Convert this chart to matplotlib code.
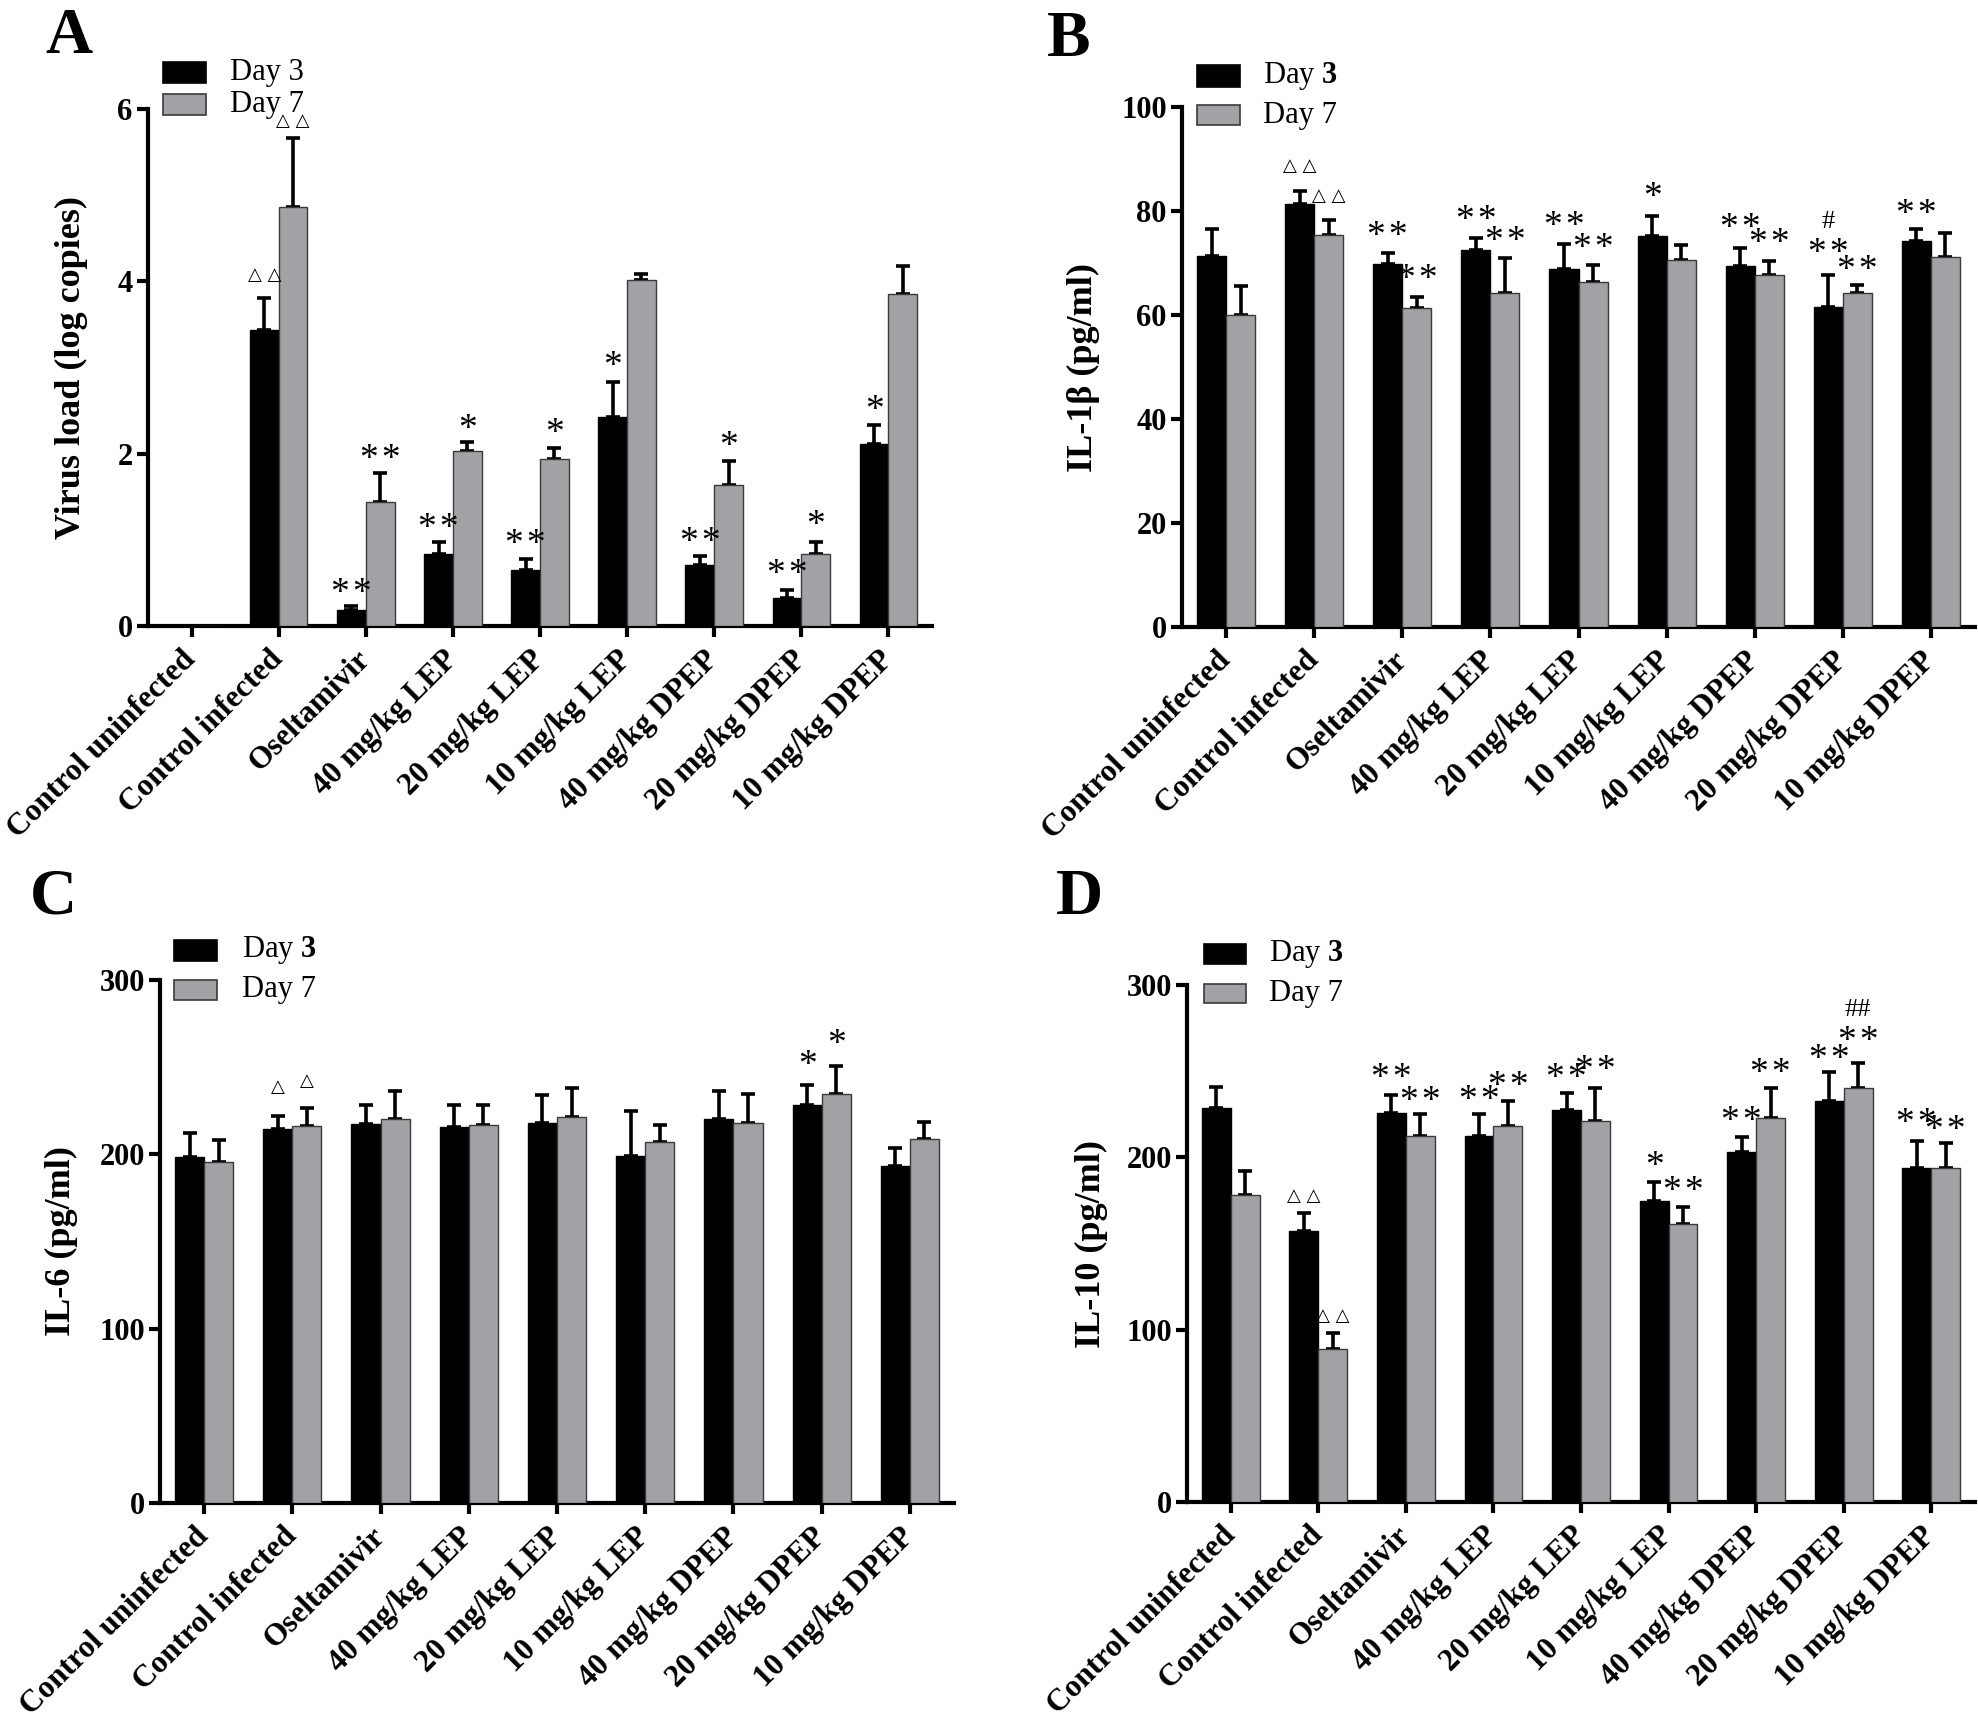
import matplotlib
matplotlib.use("Agg")
import matplotlib.pyplot as plt
from matplotlib.patches import Rectangle
import numpy as np

plt.rcParams['font.family'] = ['Liberation Serif', 'DejaVu Sans']
plt.rcParams['mathtext.fontset'] = 'custom'
plt.rcParams['mathtext.rm'] = 'Liberation Serif'
plt.rcParams['mathtext.bf'] = 'Liberation Serif:bold'

groups = ["Control uninfected", "Control infected", "Oseltamivir", "40 mg/kg LEP",
          "20 mg/kg LEP", "10 mg/kg LEP", "40 mg/kg DPEP", "20 mg/kg DPEP", "10 mg/kg DPEP"]

# Panel A: virus load (log copies)
A_d3 = [0, 3.43, 0.19, 0.84, 0.65, 2.43, 0.71, 0.33, 2.11]
A_d3_err = [0, 0.38, 0.04, 0.14, 0.13, 0.40, 0.10, 0.09, 0.22]
A_d7 = [0, 4.86, 1.44, 2.03, 1.94, 4.01, 1.64, 0.84, 3.85]
A_d7_err = [0, 0.80, 0.33, 0.10, 0.13, 0.08, 0.28, 0.14, 0.33]
A_ticks = [0, 2, 4, 6]
A_ann = [(1, 3, "△ △", 4.08), (1, 7, "△ △", 5.86), (2, 3, "**", 0.49), (2, 7, "**", 2.05),
         (3, 3, "**", 1.25), (3, 7, "*", 2.40), (4, 3, "**", 1.06), (4, 7, "*", 2.35),
         (5, 3, "*", 3.13), (6, 3, "**", 1.09), (6, 7, "*", 2.20), (7, 3, "**", 0.71),
         (7, 7, "*", 1.28), (8, 3, "*", 2.62)]

# Panel B: IL-1beta
B_d3 = [71.4, 81.3, 69.9, 72.5, 68.8, 75.2, 69.5, 61.6, 74.2]
B_d3_err = [5.2, 2.6, 2.1, 2.4, 4.9, 3.9, 3.4, 6.0, 2.3]
B_d7 = [60.0, 75.3, 61.4, 64.2, 66.3, 70.5, 67.7, 64.2, 71.2]
B_d7_err = [5.5, 2.9, 2.1, 6.7, 3.4, 3.0, 2.7, 1.6, 4.5]
B_ticks = [0, 20, 40, 60, 80, 100]
B_ann = [(1, 3, "△ △", 88.7), (1, 7, "△ △", 82.9), (2, 3, "**", 77.1), (2, 7, "**", 68.7),
         (3, 3, "**", 80.0), (3, 7, "**", 76.1), (4, 3, "**", 79.0), (4, 7, "**", 74.7),
         (5, 3, "*", 84.6), (6, 3, "**", 78.6), (6, 7, "**", 75.6), (7, 3, "#", 78.4),
         (7, 3, "**", 73.7), (7, 7, "**", 70.5), (8, 3, "**", 81.3)]

# Panel C: IL-6
C_d3 = [198.5, 214.6, 217.5, 215.6, 218.1, 198.9, 220.0, 228.5, 193.2]
C_d3_err = [13.5, 7.3, 10.7, 12.9, 15.7, 25.8, 16.4, 11.3, 10.7]
C_d7 = [195.4, 216.2, 220.3, 216.8, 221.6, 207.1, 218.1, 234.5, 209.0]
C_d7_err = [12.6, 10.4, 16.1, 11.4, 16.7, 9.7, 16.4, 16.1, 9.7]
C_ticks = [0, 100, 200, 300]
C_ann = [(1, 3, "△", 238.6), (1, 7, "△", 242.4), (7, 3, "*", 256.8), (7, 7, "*", 268.5)]

# Panel D: IL-10
D_d3 = [228.8, 157.0, 226.0, 212.6, 227.3, 174.9, 203.3, 232.4, 193.7]
D_d3_err = [11.8, 10.6, 10.2, 12.7, 9.9, 10.5, 8.3, 16.9, 15.7]
D_d7 = [178.1, 88.7, 212.6, 218.0, 221.2, 161.2, 223.1, 240.0, 194.1]
D_d7_err = [14.0, 9.6, 12.7, 14.4, 18.8, 10.2, 16.9, 14.7, 14.0]
D_ticks = [0, 100, 200, 300]
D_ann = [(1, 3, "△ △", 178.0), (1, 7, "△ △", 107.9), (2, 3, "**", 251.5), (2, 7, "**", 238.0),
         (3, 3, "**", 238.7), (3, 7, "**", 246.7), (4, 3, "**", 251.5), (4, 7, "**", 256.3),
         (5, 3, "*", 200.4), (5, 7, "**", 186.0), (6, 3, "**", 226.6), (6, 7, "**", 254.7),
         (7, 3, "**", 262.7), (7, 7, "**", 272.9), (7, 7, "##", 287.3), (8, 3, "**", 225.3),
         (8, 7, "**", 221.2)]

W, H = 1978, 1718
fig = plt.figure(figsize=(W / 100, H / 100), dpi=100)

GRAY = "#a2a2a6"
BW = 0.33


def fx(px):
    return px / W


def fy(py):
    return 1 - py / H


def panel(rect_px, d3, d3e, d7, d7e, ticks, ann, ylabel, ylabel_x, letter, letter_xy,
          legend_px, bold3):
    x0, x1, ytop, ybot = rect_px
    ax = fig.add_axes([fx(x0), fy(ybot), (x1 - x0) / W, (ybot - ytop) / H])
    x = np.arange(len(groups))
    ax.bar(x - BW / 2, d3, BW, color="black", edgecolor="black", linewidth=1, zorder=3)
    ax.bar(x + BW / 2, d7, BW, color=GRAY, edgecolor="#3a3a3a", linewidth=1, zorder=3)
    d3a = np.array(d3)
    d7a = np.array(d7)
    m3 = d3a > 0
    m7 = d7a > 0
    ax.errorbar((x - BW / 2)[m3], d3a[m3], yerr=[np.zeros(m3.sum()), np.array(d3e)[m3]],
                fmt="none", ecolor="black", elinewidth=2.6, capsize=5, capthick=2.6, zorder=2)
    ax.errorbar((x + BW / 2)[m7], d7a[m7], yerr=[np.zeros(m7.sum()), np.array(d7e)[m7]],
                fmt="none", ecolor="black", elinewidth=2.6, capsize=5, capthick=2.6, zorder=2)
    ax.set_xlim(-0.5, 8.5)
    ax.set_ylim(0, ticks[-1])
    ax.set_yticks(ticks)
    ax.set_yticklabels([str(t) for t in ticks], fontweight="bold", fontsize=22)
    ax.set_xticks(x)
    ax.set_xticklabels(groups, rotation=45, ha="right", va="center",
                       rotation_mode="anchor", fontweight="bold", fontsize=22.5)
    for s in ["top", "right"]:
        ax.spines[s].set_visible(False)
    for s in ["left", "bottom"]:
        ax.spines[s].set_linewidth(3)
    ax.tick_params(axis="both", width=3, length=8, direction="out")
    ax.tick_params(axis="y", pad=3)
    ax.tick_params(axis="x", pad=13)
    ax.set_ylabel(ylabel, fontweight="bold", fontsize=26)
    ax.yaxis.set_label_coords(ylabel_x, 0.5)
    # annotations
    for g, day, txt, yv in ann:
        xc = g - BW / 2 if day == 3 else g + BW / 2
        if "△" in txt:
            fs, off = 13, 0.30
            fam = ["DejaVu Sans"]
            shown = txt
        elif "#" in txt:
            fs, off = 19, 0.34
            fam = ["Liberation Serif"]
            shown = txt
        else:
            fs, off = 27, 0.52
            fam = ["Liberation Serif", "DejaVu Sans"]
            shown = "\u200a".join(txt)
        ax.annotate(shown, (xc, yv), xytext=(0, -off * fs), textcoords="offset points",
                    ha="center", va="baseline", fontsize=fs, family=fam,
                    annotation_clip=False, zorder=5)
    # legend
    bx0, bx1, r1, r2, tx = legend_px
    lab3 = "Day $\\mathbf{3}$" if bold3 else "Day 3"
    for (yt, yb), col, ec, lab in [(r1, "black", "black", lab3),
                                   (r2, GRAY, "#3a3a3a", "Day 7")]:
        fig.patches.append(Rectangle((fx(bx0), fy(yb)), (bx1 - bx0) / W, (yb - yt) / H,
                                     transform=fig.transFigure, facecolor=col,
                                     edgecolor=ec, linewidth=1.2))
        fig.text(fx(tx), fy((yt + yb) / 2), lab, fontsize=22, ha="left", va="center")
    fig.text(fx(letter_xy[0]), fy(letter_xy[1]), letter, fontsize=47, fontweight="bold",
             ha="left", va="top")
    return ax


panel((148, 932, 109, 626), A_d3, A_d3_err, A_d7, A_d7_err, A_ticks, A_ann,
      "Virus load (log copies)", -0.077, "A", (45, 7),
      (163, 206, (62, 83), (94, 115), 230), False)
panel((1182, 1975, 107, 627), B_d3, B_d3_err, B_d7, B_d7_err, B_ticks, B_ann,
      "IL-1β (pg/ml)", -0.103, "B", (1047, 10),
      (1197, 1240, (65, 87), (105, 125), 1263), True)
panel((160, 954, 980, 1503), C_d3, C_d3_err, C_d7, C_d7_err, C_ticks, C_ann,
      "IL-6 (pg/ml)", -0.103, "C", (30, 868),
      (174, 217, (940, 961), (980, 1000), 242), True)
panel((1187, 1975, 985, 1502), D_d3, D_d3_err, D_d7, D_d7_err, D_ticks, D_ann,
      "IL-10 (pg/ml)", -0.10, "D", (1056, 868),
      (1204, 1246, (944, 964), (984, 1003), 1269), True)

fig.savefig("out.png", dpi=100)
